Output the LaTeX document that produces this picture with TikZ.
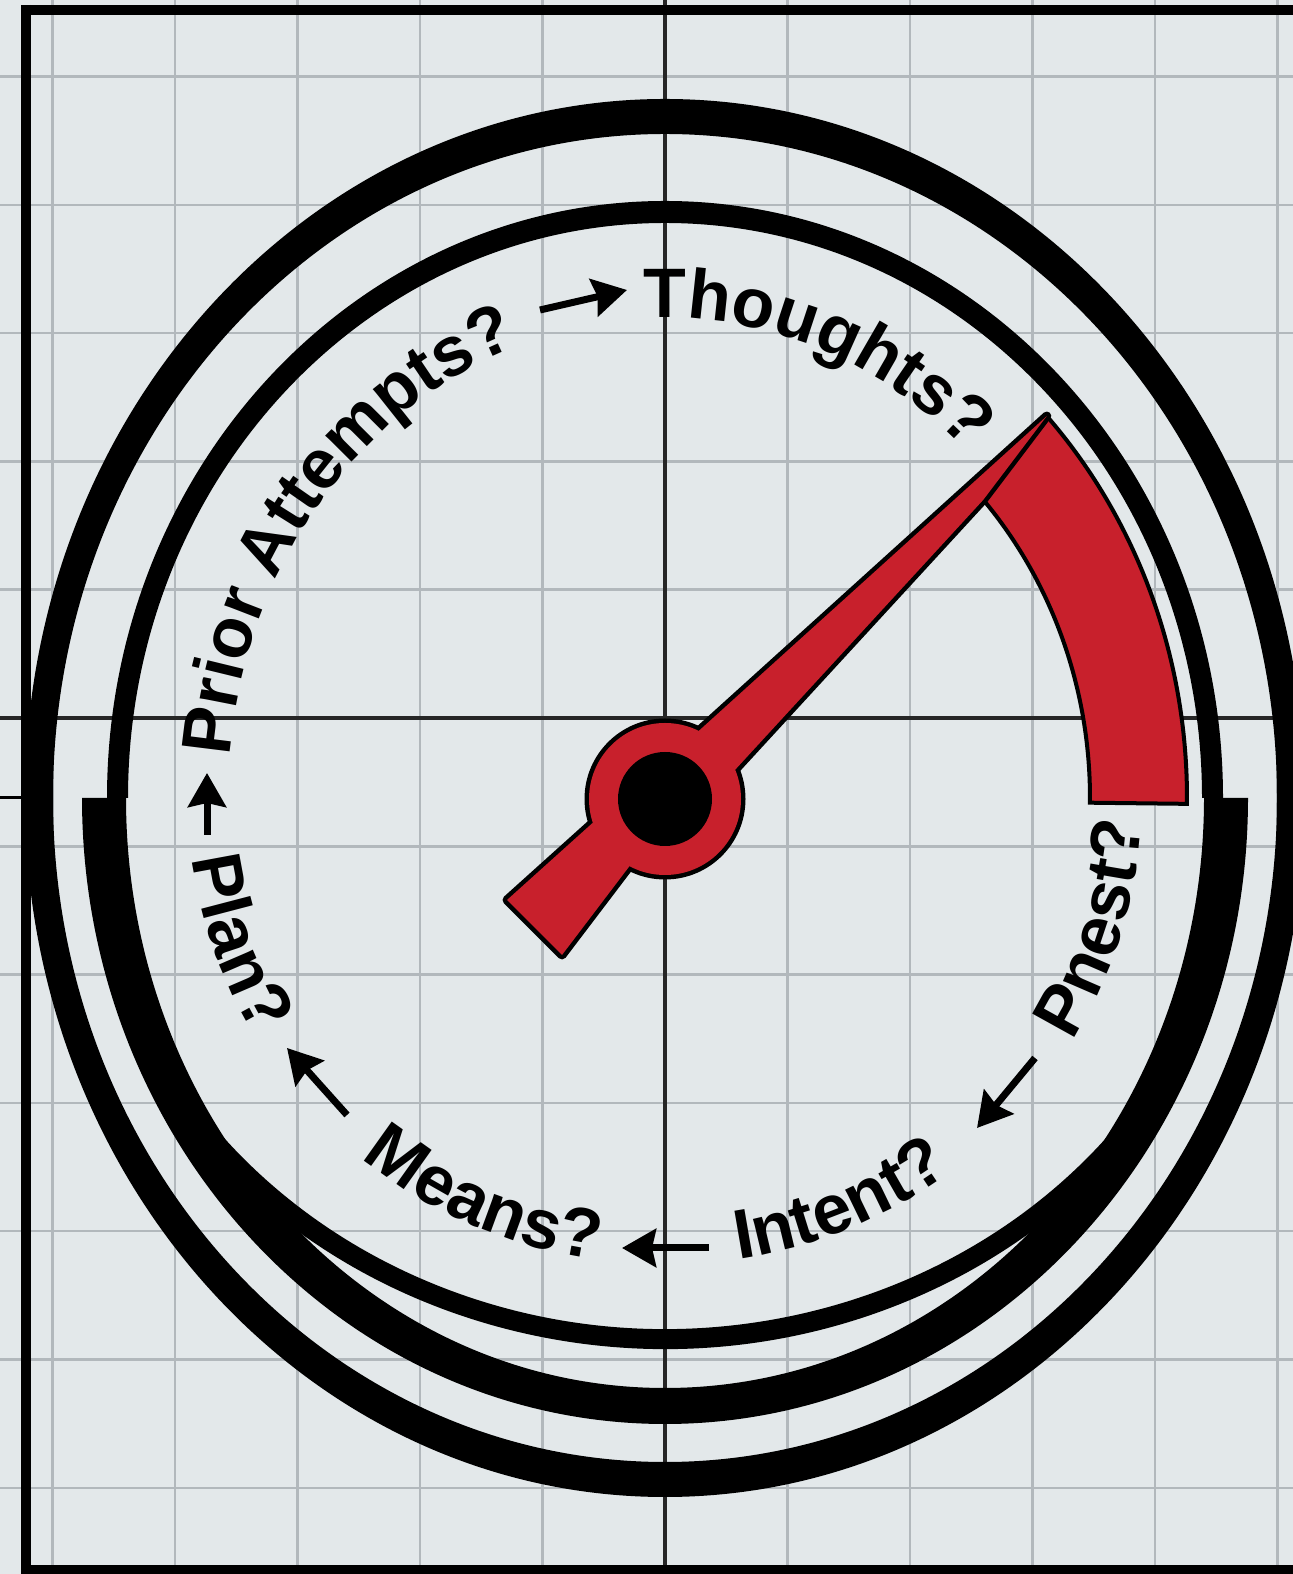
\documentclass[tikz,border=0pt]{standalone}
\usepackage{fontspec}
\setsansfont{Liberation Sans}
\usetikzlibrary{decorations.text, arrows.meta, calc}
\definecolor{bgc}{RGB}{227,232,234}
\definecolor{gridc}{RGB}{178,184,188}
\definecolor{gaugered}{RGB}{200,32,44}
\newcommand{\dialfont}{\fontsize{35pt}{35pt}\selectfont\sffamily\bfseries}
\begin{document}
\begin{tikzpicture}[x=0.5pt,y=0.5pt,
  gridline/.style={draw=gridc, line width=1.25pt},
  axisline/.style={draw=black!85, line width=1.6pt},
  frameline/.style={draw=black, line width=5pt},
  ringfill/.style={fill=black, even odd rule},
  redpart/.style={fill=gaugered},
  redoutline/.style={draw=black, line width=4.5pt, line join=round},
  arr/.style={line width=3.5pt, -{Stealth[length=17pt,width=19pt,inset=2pt]}},
  dialtext/.style={decorate, decoration={text along path, text align=center, text={|\dialfont|#1}}},
]
\useasboundingbox (0,0) rectangle (1293,1574);
\fill[bgc] (0,0) rectangle (1293,1574);

% grid
\foreach \k in {-5,...,5} {\draw[gridline] ({665+122.5*\k},0) -- ({665+122.5*\k},1574);}
\foreach \k in {-6,...,5} {\draw[gridline] (0,{856+128.3*\k}) -- (1293,{856+128.3*\k});}

% axes
\draw[axisline] (665,0) -- (665,1574);
\draw[axisline] (0,856) -- (1293,856);

% frame
\draw[frameline] (21,1564) -- (1293,1564);
\draw[frameline] (26,1569) -- (26,0);
\draw[frameline] (21,4) -- (1293,4);
\draw[black, line width=1.5pt] (0,776) -- (24,776);

\coordinate (C) at (665,776);

% outer ring
\fill[ringfill] (C) ellipse [x radius=640, y radius=699] (C) ellipse [x radius=612, y radius=664];

% middle ring, upper half
\fill[black] ($(C)+(0:558 and 597)$) arc[start angle=0, end angle=180, x radius=558, y radius=597]
  -- ($(C)+(180:537 and 575)$) arc[start angle=180, end angle=0, x radius=537, y radius=575] -- cycle;
% middle ring, lower half
\fill[black] ($(C)+(180:583 and 626)$) arc[start angle=180, end angle=360, x radius=583, y radius=626]
  -- ($(C)+(0:539 and 590)$) arc[start angle=0, end angle=-180, x radius=539, y radius=590] -- cycle;
% inner bottom band
\fill[black] ($(C)+(205:594 and 551)$) arc[start angle=205, end angle=335, x radius=594, y radius=551]
  -- ($(C)+(335:574 and 531)$) arc[start angle=335, end angle=205, x radius=574, y radius=531] -- cycle;

% red band
\draw[redpart, draw=black, line width=2pt, line join=miter]
  ($(C)+(-0.6:425 and 450)$) -- ($(C)+(-0.6:522 and 560)$)
  arc[start angle=-0.6, end angle=43, x radius=522, y radius=560]
  -- ($(C)+(41.5:425 and 450)$)
  arc[start angle=41.5, end angle=-0.6, x radius=425, y radius=450] -- cycle;

% needle
\coordinate (hub) at (665,775);
\coordinate (nA) at (650,799);
\coordinate (tip) at ($(C)+(43:522 and 560)$);
\coordinate (nB) at ($(C)+(41.5:425 and 450)$);
\coordinate (nC) at (700,766);
\coordinate (tA) at (627,782);
\coordinate (tB) at (507,674);
\coordinate (tC) at (562,619);
\coordinate (tD) at (660,748);
\draw[redoutline] (nA) -- (tip) -- (nB) -- (nC) -- cycle;
\draw[redoutline] (tA) -- (tB) -- (tC) -- (tD) -- cycle;
\draw[redoutline] (hub) circle[radius=76];
\fill[redpart] (nA) -- (tip) -- (nB) -- (nC) -- cycle;
\fill[redpart] (tA) -- (tB) -- (tC) -- (tD) -- cycle;
\fill[redpart] (hub) circle[radius=76];
\fill[black] (hub) circle[radius=47];

% dial texts (upper: clockwise, lower: counter-clockwise)
\path[dialtext={Prior Attempts?}] ($(C)+(182:437 and 480)$) arc[start angle=182, end angle=102, x radius=437, y radius=480];
\path[dialtext={Thoughts?}] ($(C)+(110:437 and 480)$) arc[start angle=110, end angle=30, x radius=437, y radius=480];
\path[dialtext={Plan?}] ($(C)+(169:477 and 467)$) arc[start angle=169, end angle=229, x radius=477, y radius=467];
\path[dialtext={Means?}] ($(C)+(211:477 and 467)$) arc[start angle=211, end angle=281, x radius=477, y radius=467];
\path[dialtext={Intent?}] ($(C)+(258:477 and 467)$) arc[start angle=258, end angle=328, x radius=477, y radius=467];
\path[dialtext={Pnest?}] ($(C)+(308:477 and 467)$) arc[start angle=308, end angle=378, x radius=477, y radius=467];

% arrows between labels
\coordinate (a1s) at (207,739);  \coordinate (a1e) at (207,801);
\coordinate (a2s) at (347,459);  \coordinate (a2e) at (287,526);
\coordinate (a3s) at (709,326);  \coordinate (a3e) at (622,326);
\coordinate (a4s) at (1035,516); \coordinate (a4e) at (977,446);
\coordinate (a5s) at (540,1264); \coordinate (a5e) at (627,1284);
\draw[arr] (a1s) -- (a1e);
\draw[arr] (a2s) -- (a2e);
\draw[arr] (a3s) -- (a3e);
\draw[arr] (a4s) -- (a4e);
\draw[arr] (a5s) -- (a5e);
\end{tikzpicture}
\end{document}
